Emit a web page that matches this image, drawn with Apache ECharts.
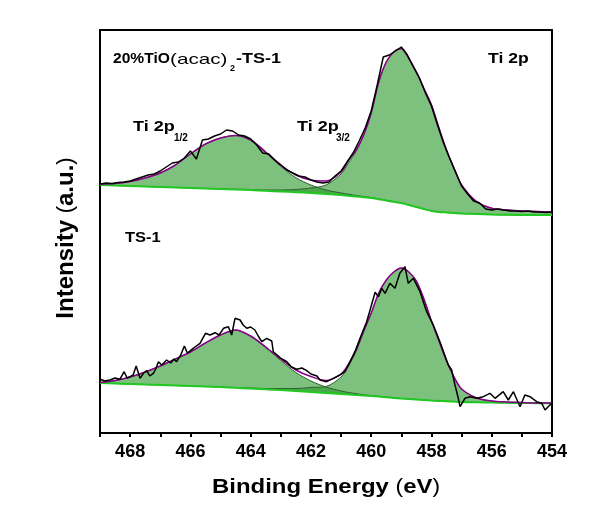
<!DOCTYPE html>
<html>
<head>
<meta charset="utf-8">
<script src="https://cdn.jsdelivr.net/npm/echarts@6/dist/echarts.min.js"></script>
<style>
html,body{margin:0;padding:0;background:#fff;}
#chart{width:603px;height:505px;}
</style>
</head>
<body>
<div id="chart"></div>
<script>
// Binding energies (eV) for fitted curves
const fitE = [469,468.5,468,467.5,467,466.5,466,465.5,465,464.5,464,463.5,463,462.5,462,461.5,
  461,460.75,460.5,460.25,460,459.75,459.5,459.25,459,458.75,458.5,458.25,458,457.75,457.5,457.25,457,
  456.5,456,455.5,455,454.5,454];

// 20%TiO(acac)2-TS-1 (upper, offset) spectrum
const topBaseline = [248,247.5,247,246.5,246,245.5,245,244.5,244,243.5,243,242.2,241.5,240.8,240,239,
  238,237.2,236.5,235.8,235,233.8,232.5,231.2,230,228,226,224,222,221,220.5,220,219.5,
  219,218.5,218.2,218,218,218];
const topPeak12 = [1,2,4.5,8.5,14,22.5,34,44.5,51,54,49.5,38,25,14.5,8,4,
  2,1.5,1,0.7,0.5,0.3,0.2,0.1,0,0,0,0,0,0,0,0,0,
  0,0,0,0,0,0];
const topPeak32 = [0,0,0,0,0,0,0,0,0,0.2,0.5,0.8,1.5,2.7,5,9,
  21,33,45,62,85,117,138.5,150,154.5,146.5,135,120.5,106,84,62.5,44.5,28.5,
  12.3,6.2,5,4,3.5,3];
const topEnvelope = [249,249.5,251.5,255,260,268,279,289,295,297.5,293,281,268,258,253,252,
  261,273,283,298,320,351,371,381,384.5,374.5,361,344.5,328,305,283,264.5,248,
  231.3,224.7,223,222,221.5,221];
const topRawE = [469,468.8,468.6,468.4,468.2,468,467.8,467.6,467.4,467.2,467,466.8,466.6,466.4,466.2,466,
  465.8,465.6,465.4,465.2,465,464.8,464.6,464.4,464.2,464,463.8,463.6,463.4,463.2,463,462.8,462.6,462.4,462.2,462,
  461.8,461.6,461.4,461.2,461,460.8,460.6,460.4,460.2,460,459.8,459.6,459.4,459.2,459,458.8,458.6,458.4,458.2,458,
  457.8,457.6,457.4,457.2,457,456.8,456.6,456.4,456.2,456,455.8,455.6,455.4,455.2,455,454.8,454.6,454.4,454.2,454];
const topRawI = [249,250,249.5,250.5,251,252,254,256,258,259,262,266,270,271,275,282,
  274,293,294,297,299,303,302,298,297,294,288,280,279,273,268,263,260,257,256,253,
  251,250,251,257,262,271,280,292,305,322,348,376,378,382,386,378,366,355,340,327,
  308,290,275,261,247,239,232,230,224,223,224,223,222,222,221.5,222,221,221,220.5,221];

// TS-1 (lower) spectrum
const botBaseline = [50,49.5,49,48.5,48,47.5,47,46.5,46,45.2,44.5,43.7,43,42,41,40,
  39,38.5,38,37.5,37,36.4,35.8,35.1,34.5,34,33.5,33,32.5,32.1,31.8,31.4,31,
  30.7,30.5,30.2,30,29.8,29.7];
const botPeak12 = [0.5,3,7,12.5,19,26.5,34,43.5,52,57.5,52,41.5,29.5,18.5,11,6,
  3,2,1.3,0.8,0.5,0.3,0.2,0.1,0,0,0,0,0,0,0,0,0,
  0,0,0,0,0,0];
const botPeak32 = [0,0,0,0,0,0,0,0,0,0.3,0.5,0.8,1.5,2.5,4.5,6.5,
  17,28.5,43.7,63.7,82.5,103.3,117,125.9,130.5,127,118.5,101,79.5,60,40,24.5,13,
  4.3,1.5,0.8,0.5,0.3,0.2];
const botEnvelope = [50.5,52.5,56,61,67,74,81,90,98,103,97,86,74,63,56.5,52.5,
  59,69,83,102,120,140,153,161,165,161,152,134,112,92,72,56,44,
  35,32,31,30.5,30,30];
const botRawE = [469,468.85,468.67,468.5,468.34,468.2,468.1,468,467.9,467.8,467.67,467.55,467.45,467.35,467.23,467.15,467.06,
  466.95,466.79,466.65,466.55,466.46,466.32,466.2,466.1,466,465.85,465.68,465.5,465.35,465.18,465.05,464.9,464.74,464.63,
  464.52,464.35,464.25,464.13,464,463.86,463.75,463.63,463.47,463.3,463.25,463.12,463,462.9,462.8,462.65,462.47,462.3,
  462.14,462,461.8,461.7,461.48,461.26,461.04,460.87,460.7,460.54,460.37,460.15,459.99,459.87,459.76,459.65,459.54,
  459.38,459.21,459.05,458.88,458.77,458.6,458.38,458.16,457.94,457.72,457.44,457.33,457.22,457.11,457.05,456.89,
  456.72,456.5,456.28,456.06,455.89,455.62,455.45,455.28,455.06,454.9,454.73,454.51,454.34,454.23,454.07,454];
const botRawI = [54,52,53,55,53.7,61.3,55,56.3,58,67,54.7,60,62.3,57,59.7,64,71.3,
  68,73,70,74,71.3,78,87,80,82.3,86,89.7,99.7,98,100.3,98,104.7,106.3,98,
  114.7,113,108,104.7,106,103,97,91.3,94.7,92,81.3,78,74.7,73,71.3,66,63.7,65,
  62.3,59,57,53,51.3,54.7,58,61.3,71.3,81.3,94.7,111.3,128,140.7,136.3,144.7,139.7,
  149.7,144.7,159.7,166.3,149.7,154.7,141.3,121.3,108,91.3,68,63,48,34.7,26.3,34.7,
  36.3,34.7,36.3,39.7,34.7,41.3,33,41.3,26.3,38,36.3,31.3,29.7,23,28,30];

const xLabels = [454,456,458,460,462,464,466,468];

// pairs stored as [intensity, energy] so that stacking acts on intensity
function zip(e, v){ return e.map((x,i)=>[v[i], x]); }
const ENC = {x:1, y:0};

const FILL = 'rgba(40,150,40,0.6)';
const OUTLINE = '#2f5f2f';
const BASE = '#22c822';
const ENV = '#8b008b';

function spectrum(id, base, p12, p32, env, rawE, rawI){
  const mk = (o) => Object.assign({type:'line', symbol:'none', encode:ENC}, o);
  return [
    mk({name:id+'b1', stack:id+'A', smooth:0.3, silent:true, lineStyle:{opacity:0}, data:zip(fitE, base)}),
    mk({name:id+'p12', stack:id+'A', smooth:0.3, data:zip(fitE, p12),
      lineStyle:{color:OUTLINE, width:1}, areaStyle:{color:FILL, opacity:1}}),
    mk({name:id+'b2', stack:id+'B', smooth:0.3, silent:true, lineStyle:{opacity:0}, data:zip(fitE, base)}),
    mk({name:id+'p32', stack:id+'B', smooth:0.3, data:zip(fitE, p32),
      lineStyle:{color:OUTLINE, width:1}, areaStyle:{color:FILL, opacity:1}}),
    mk({name:id+'bg', smooth:0.3, data:zip(fitE, base), lineStyle:{color:BASE, width:2}}),
    mk({name:id+'env', smooth:0.3, data:zip(fitE, env), lineStyle:{color:ENV, width:1.5}}),
    mk({name:id+'raw', data:zip(rawE, rawI), lineStyle:{color:'#000', width:1.5}})
  ];
}

const FONT = 'Liberation Sans';
const chart = echarts.init(document.getElementById('chart'), null, {renderer:'canvas'});
const txt = (t, x, y, size, weight, sx) => ({type:'text', x:x, y:y, z:100, scaleX:sx||1,
  style:{text:t, fill:'#000', font:(weight||'bold')+' '+size+'px "'+FONT+'"', textVerticalAlign:'middle'}});

chart.setOption({
  backgroundColor:'#fff',
  animation:false,
  grid:{left:100, right:51, top:30, bottom:72, show:true, borderColor:'#000', borderWidth:2},
  xAxis:{type:'value', min:454, max:469, interval:1, inverse:true,
    axisLine:{show:true, lineStyle:{color:'#000', width:2}},
    axisTick:{show:true, inside:false, length:4, lineStyle:{color:'#000', width:2}},
    axisLabel:{color:'#000', fontFamily:FONT, fontWeight:'bold', fontSize:18, margin:10,
      formatter:v => xLabels.indexOf(v) >= 0 ? String(v) : ''},
    splitLine:{show:false}},
  yAxis:{type:'value', min:0, max:403,
    axisLine:{show:true, lineStyle:{color:'#000', width:2}},
    axisTick:{show:false}, axisLabel:{show:false}, splitLine:{show:false}},
  graphic:[
    {type:'text', x:326, y:487, z:100, scaleX:1.14,
      style:{text:'{b|Binding Energy }{p|(}{b|eV}{p|)}', textAlign:'center', textVerticalAlign:'middle',
        rich:{b:{fontFamily:FONT, fontWeight:'bold', fontSize:21, fill:'#000'},
              p:{fontFamily:FONT, fontWeight:'normal', fontSize:20, fill:'#000'}}}},
    {type:'text', x:66, y:238, z:100, rotation:Math.PI/2,
      style:{text:'{b|Intensity }{p|(}{b|a.u.}{p|)}', textAlign:'center', textVerticalAlign:'middle',
        rich:{b:{fontFamily:FONT, fontWeight:'bold', fontSize:24, fill:'#000'},
              p:{fontFamily:FONT, fontWeight:'normal', fontSize:22, fill:'#000'}}}},
    txt('20%TiO', 113, 58.5, 15, 'bold', 1.04),
    txt('(acac)', 170, 59.5, 15, 'normal', 1.38),
    txt('2', 230, 69, 9, 'bold'),
    txt('-TS-1', 236, 58.5, 15, 'bold', 1.2),
    txt('Ti 2p', 488, 59, 15, 'bold', 1.17),
    txt('Ti 2p', 133, 127, 15, 'bold', 1.2),
    txt('1/2', 174, 138, 10, 'bold'),
    txt('Ti 2p', 297, 127, 15, 'bold', 1.2),
    txt('3/2', 336, 138, 10, 'bold'),
    txt('TS-1', 125, 238, 15, 'bold', 1.1)
  ],
  series:[].concat(
    spectrum('t', topBaseline, topPeak12, topPeak32, topEnvelope, topRawE, topRawI),
    spectrum('b', botBaseline, botPeak12, botPeak32, botEnvelope, botRawE, botRawI)
  )
});
</script>
</body>
</html>
